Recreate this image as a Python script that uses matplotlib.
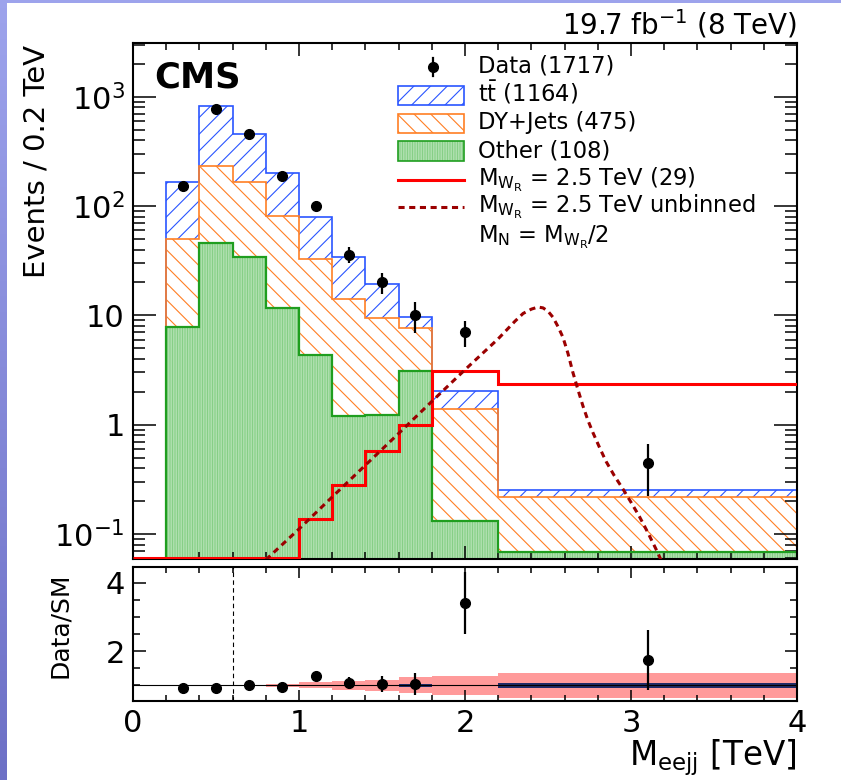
import numpy as np
import matplotlib
matplotlib.use("Agg")
import matplotlib.pyplot as plt
from matplotlib.patches import Rectangle
from matplotlib.lines import Line2D
from matplotlib.ticker import FixedLocator, MultipleLocator, LogLocator, FuncFormatter, NullFormatter

plt.rcParams["font.family"] = ["DejaVu Sans"]
plt.rcParams["hatch.linewidth"] = 0.8

# M_eejj binning in TeV (0.2 TeV bins, then two wide bins)
edges = np.array([0.2, 0.4, 0.6, 0.8, 1.0, 1.2, 1.4, 1.6, 1.8, 2.2, 4.0])

# backgrounds, events / 0.2 TeV
other = np.array([7.9, 46.0, 34.0, 11.6, 4.3, 1.21, 1.23, 3.1, 0.13, 0.069])
dyjets = np.array([42.0, 185.0, 133.0, 69.0, 28.7, 12.9, 8.3, 4.5, 1.26, 0.148])
ttbar = np.array([117.0, 593.0, 287.0, 120.0, 46.0, 19.9, 9.9, 2.1, 0.66, 0.037])

# observed events per bin
data_counts = np.array([154, 769, 456, 190, 100, 36, 20, 10, 14, 4])

# signal M_WR = 2.5 TeV, binned
sig_edges = np.array([0.0, 0.2, 0.4, 0.6, 0.8, 1.0, 1.2, 1.4, 1.6, 1.8, 2.2, 4.0])
sig_binned = np.array([0, 0, 0, 0, 0, 0.137, 0.283, 0.571, 1.0, 3.12, 2.36])

# signal M_WR = 2.5 TeV, unbinned shape
sig_x = [0.80, 1.00, 1.20, 1.40, 1.60, 1.80, 2.00, 2.20, 2.30, 2.35, 2.40, 2.44,
         2.47, 2.50, 2.53, 2.56, 2.59, 2.62, 2.65, 2.68, 2.71, 2.74, 2.77, 2.81,
         2.85, 2.90, 2.95, 3.00, 3.05, 3.10, 3.15, 3.20]
sig_y = [0.058, 0.111, 0.218, 0.426, 0.83, 1.63, 3.18, 6.1, 8.8, 10.4, 11.4, 11.9,
         11.7, 10.9, 9.6, 7.9, 6.3, 4.5, 3.0, 2.1, 1.49, 1.1, 0.85, 0.62,
         0.46, 0.34, 0.26, 0.195, 0.145, 0.104, 0.073, 0.05]

# ratio panel: systematic and MC-stat half widths, starting at 0.6 TeV
unc_edges = np.array([0.6, 0.8, 1.0, 1.2, 1.4, 1.6, 1.8, 2.2, 4.0])
syst_unc = np.array([0.02, 0.05, 0.09, 0.13, 0.16, 0.24, 0.27, 0.36])
stat_unc = np.array([0.008, 0.008, 0.01, 0.012, 0.015, 0.05, 0.02, 0.08])

C_TT = "#2a55ff"
C_DY = "#ff7f24"
C_OT = "#1f9e1f"
C_OT_FILL = "#cdeccd"
C_OT_HATCH = "#86cf86"
H_TT, H_DY, H_OT = "//", "\\\\", "||||||||||"
YLO, YHI = 0.059, 3100.0
FLOOR = 1e-3

W, H = 841, 780


def fxy(x, y):
    return x / W, 1 - y / H


widths = np.diff(edges)
centers = 0.5 * (edges[:-1] + edges[1:])
scale = widths / 0.2
data_y = data_counts / scale
data_err = np.sqrt(data_counts) / scale

cum_dy = other + dyjets
cum_tot = cum_dy + ttbar

fig = plt.figure(figsize=(W / 100, H / 100), dpi=100)

# slide frame
strip = fig.add_axes([0, 0, 7 / W, 1])
strip.imshow(np.linspace(0, 1, 100).reshape(-1, 1), aspect="auto",
             cmap=matplotlib.colors.LinearSegmentedColormap.from_list("s", ["#9da3ec", "#6d70c6"]),
             extent=(0, 1, 0, 1))
strip.axis("off")
fig.add_artist(Rectangle((0, 1 - 2.5 / H), 1, 2.5 / H, transform=fig.transFigure,
                         color="#9da3ec", lw=0))

ax = fig.add_axes([133 / W, 1 - 559 / H, 664 / W, 516 / H])
rax = fig.add_axes([133 / W, 1 - 701 / H, 664 / W, 134 / H])

# stacked backgrounds: fills
ax.stairs(cum_tot, edges, baseline=cum_dy, fill=True, facecolor="white",
          edgecolor=C_TT, hatch=H_TT, lw=0, zorder=1)
ax.stairs(cum_dy, edges, baseline=other, fill=True, facecolor="white",
          edgecolor=C_DY, hatch=H_DY, lw=0, zorder=1)
ax.stairs(other, edges, baseline=FLOOR, fill=True, facecolor=C_OT_FILL,
          edgecolor=C_OT_HATCH, hatch=H_OT, lw=0, zorder=1)
# outlines
ax.stairs(cum_tot, edges, baseline=FLOOR, color=C_TT, lw=1.2, zorder=2)
ax.stairs(cum_dy, edges, baseline=FLOOR, color=C_DY, lw=1.2, zorder=2)
ax.stairs(other, edges, baseline=FLOOR, color=C_OT, lw=1.6, zorder=2)

# signal
ax.stairs(np.maximum(sig_binned, YLO * 1.03), sig_edges, baseline=None,
          color="#ff0000", lw=2.2, zorder=3)
ax.plot(sig_x, sig_y, color="#9b0000", lw=2.2, ls=(0, (2.0, 1.5)), zorder=3)

ax.errorbar(centers, data_y, yerr=data_err, fmt="o", color="k", ms=7,
            elinewidth=1.6, capsize=0, zorder=4)

ax.set_yscale("log")
ax.set_xlim(0, 4)
ax.set_ylim(YLO, YHI)


def log_label(v, pos):
    e = int(round(np.log10(v)))
    if e == 0:
        return "1"
    if e == 1:
        return "10"
    return r"$\mathregular{10^{%d}}$" % e


ax.yaxis.set_major_locator(FixedLocator([0.1, 1, 10, 100, 1000]))
ax.yaxis.set_major_formatter(FuncFormatter(log_label))
ax.yaxis.set_minor_locator(LogLocator(base=10, subs=np.arange(2, 10), numticks=20))
ax.yaxis.set_minor_formatter(NullFormatter())
ax.xaxis.set_major_locator(MultipleLocator(1))
ax.xaxis.set_minor_locator(MultipleLocator(0.2))
ax.tick_params(which="both", direction="in", top=True, right=True,
               labelbottom=False, width=1.1, labelsize=22, pad=6)
ax.tick_params(axis="y", which="major", length=16.5)
ax.tick_params(axis="y", which="minor", length=8.6)
ax.tick_params(axis="x", which="major", length=9.4)
ax.tick_params(axis="x", which="minor", length=5)

# ratio panel
ratio = data_y / cum_tot
ratio_err = data_err / cum_tot
rax.stairs(1 + syst_unc, unc_edges, baseline=1 - syst_unc, fill=True,
           color="#ff9a9a", lw=0, zorder=1)
rax.stairs(1 + stat_unc, unc_edges, baseline=1 - stat_unc, fill=True,
           color="#1f2a66", lw=0, zorder=2)
rax.axhline(1, color="k", lw=0.8, zorder=2)
rax.axvline(0.6, color="k", lw=0.8, ls=(0, (4, 3)), zorder=2)
rax.errorbar(centers, ratio, yerr=ratio_err, fmt="o", color="k", ms=7,
             elinewidth=1.6, capsize=0, zorder=4)
rax.set_xlim(0, 4)
rax.set_ylim(0.54, 4.46)
rax.yaxis.set_major_locator(FixedLocator([2, 4]))
rax.yaxis.set_minor_locator(MultipleLocator(0.5))
rax.xaxis.set_major_locator(MultipleLocator(1))
rax.xaxis.set_minor_locator(MultipleLocator(0.2))
rax.tick_params(which="both", direction="in", top=True, right=True,
                width=1.1, labelsize=22, pad=6)
rax.tick_params(axis="y", which="major", length=9)
rax.tick_params(axis="y", which="minor", length=5)
rax.tick_params(axis="x", which="major", length=8)
rax.tick_params(axis="x", which="minor", length=4)

for a in (ax, rax):
    for s in a.spines.values():
        s.set_linewidth(1.5)

# texts
fig.text(*fxy(37, 45), "Events / 0.2 TeV", rotation=90, ha="center", va="top", fontsize=21)
fig.text(*fxy(60, 572), "Data/SM", rotation=90, ha="center", va="top", fontsize=18)
fig.text(*fxy(797, 765), r"M$_{\mathregular{eejj}}$ [TeV]", ha="right", va="baseline", fontsize=23.5)
fig.text(*fxy(797, 34), r"19.7 fb$^{\mathregular{-1}}$ (8 TeV)", ha="right", va="baseline", fontsize=20)
fig.text(*fxy(154, 87), "CMS", ha="left", va="baseline", fontsize=25.5, fontweight="bold")

# legend
LX0, LX1, TX = 398, 464, 478
rows = [72.7, 101, 129.3, 157.3, 185.7, 212.3, 242]
labels = [
    "Data (1717)",
    r"$\mathregular{t\bar{t}}$ (1164)",
    "DY+Jets (475)",
    "Other (108)",
    r"M$_{\mathregular{W_R}}$ = 2.5 TeV (29)",
    r"M$_{\mathregular{W_R}}$ = 2.5 TeV unbinned",
    r"M$_{\mathregular{N}}$ = M$_{\mathregular{W_R}}$/2",
]
for yb, lab in zip(rows, labels):
    fig.text(*fxy(TX, yb), lab, ha="left", va="baseline", fontsize=16.3)

fig.add_artist(Line2D([433 / W] * 2, [fxy(0, 58)[1], fxy(0, 76)[1]], color="k", lw=1.6,
                      transform=fig.transFigure))
fig.add_artist(Line2D([433 / W], [fxy(0, 67.3)[1]], marker="o", ms=7, color="k",
                      transform=fig.transFigure))
for yc, ec, hc, fc, h in [(95.5, C_TT, C_TT, "white", H_TT),
                          (123.5, C_DY, C_DY, "white", H_DY),
                          (151, C_OT, C_OT_HATCH, C_OT_FILL, H_OT)]:
    x0, y0 = fxy(LX0, yc + 9.5)
    fig.add_artist(Rectangle((x0, y0), (LX1 - LX0) / W, 19 / H, transform=fig.transFigure,
                             facecolor=fc, edgecolor=hc, hatch=h, lw=0))
    fig.add_artist(Rectangle((x0, y0), (LX1 - LX0) / W, 19 / H, transform=fig.transFigure,
                             facecolor="none", edgecolor=ec, lw=1.2))
fig.add_artist(Line2D([LX0 / W, LX1 / W], [fxy(0, 180)[1]] * 2, color="#ff0000", lw=2.2,
                      transform=fig.transFigure))
fig.add_artist(Line2D([LX0 / W, LX1 / W], [fxy(0, 207)[1]] * 2, color="#9b0000", lw=2.2,
                      ls=(0, (2.0, 1.5)), transform=fig.transFigure))

fig.savefig("out.png", dpi=100)
